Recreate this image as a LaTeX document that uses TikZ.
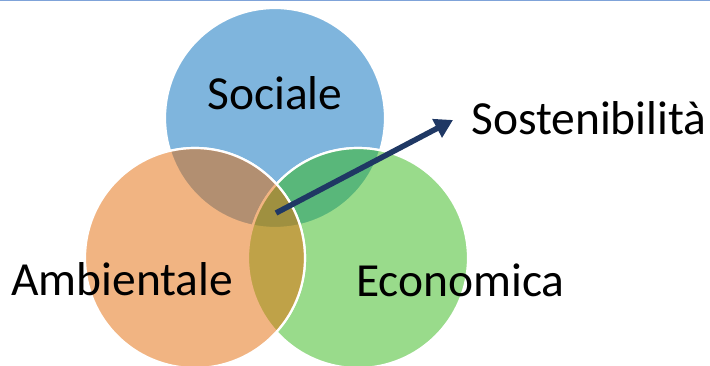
\documentclass[tikz,border=0pt]{standalone}
\usepackage{fontspec}
\setmainfont{Carlito}
\usetikzlibrary{arrows.meta}
\definecolor{cblue}{RGB}{0,109,189}
\definecolor{cgreen}{RGB}{53,185,25}
\definecolor{corange}{RGB}{229,107,7}
\definecolor{navy}{RGB}{31,56,100}
\definecolor{topline}{RGB}{127,163,217}
\tikzset{
  venn/.style={draw=white, line width=2.2pt, fill opacity=0.5},
  lbl/.style={anchor=base west, inner sep=0pt, font=\fontsize{47.5}{52}\selectfont, text=black},
  pointer/.style={draw=navy, line width=5.5pt, -{Triangle[length=18pt,width=20pt]}}
}
\begin{document}
\begin{tikzpicture}[x=1pt,y=-1pt]
\useasboundingbox (0,0) rectangle (710,366);
\fill[white] (0,0) rectangle (710,366);
\draw[topline, line width=1.5pt] (0,0.5) -- (710,0.5);
\fill[venn, fill=cblue] (275,118) circle (110);
\draw[white, line width=2.2pt] (358,258) circle (110);
\fill[venn, fill=cgreen] (358,258) circle (110);
\draw[white, line width=2.2pt] (195,258) circle (110);
\fill[venn, fill=corange] (195,258) circle (110);
\node[lbl] (soc) at (207,110) {Sociale};
\node[lbl] (amb) at (11,295) {Ambientale};
\node[lbl] (eco) at (356,297) {Economica};
\node[lbl] (sos) at (471,135) {Sostenibilità};
\coordinate (core) at (276,213);
\coordinate (tip) at (453,120);
\draw[pointer] (core) -- (tip);
\end{tikzpicture}
\end{document}
